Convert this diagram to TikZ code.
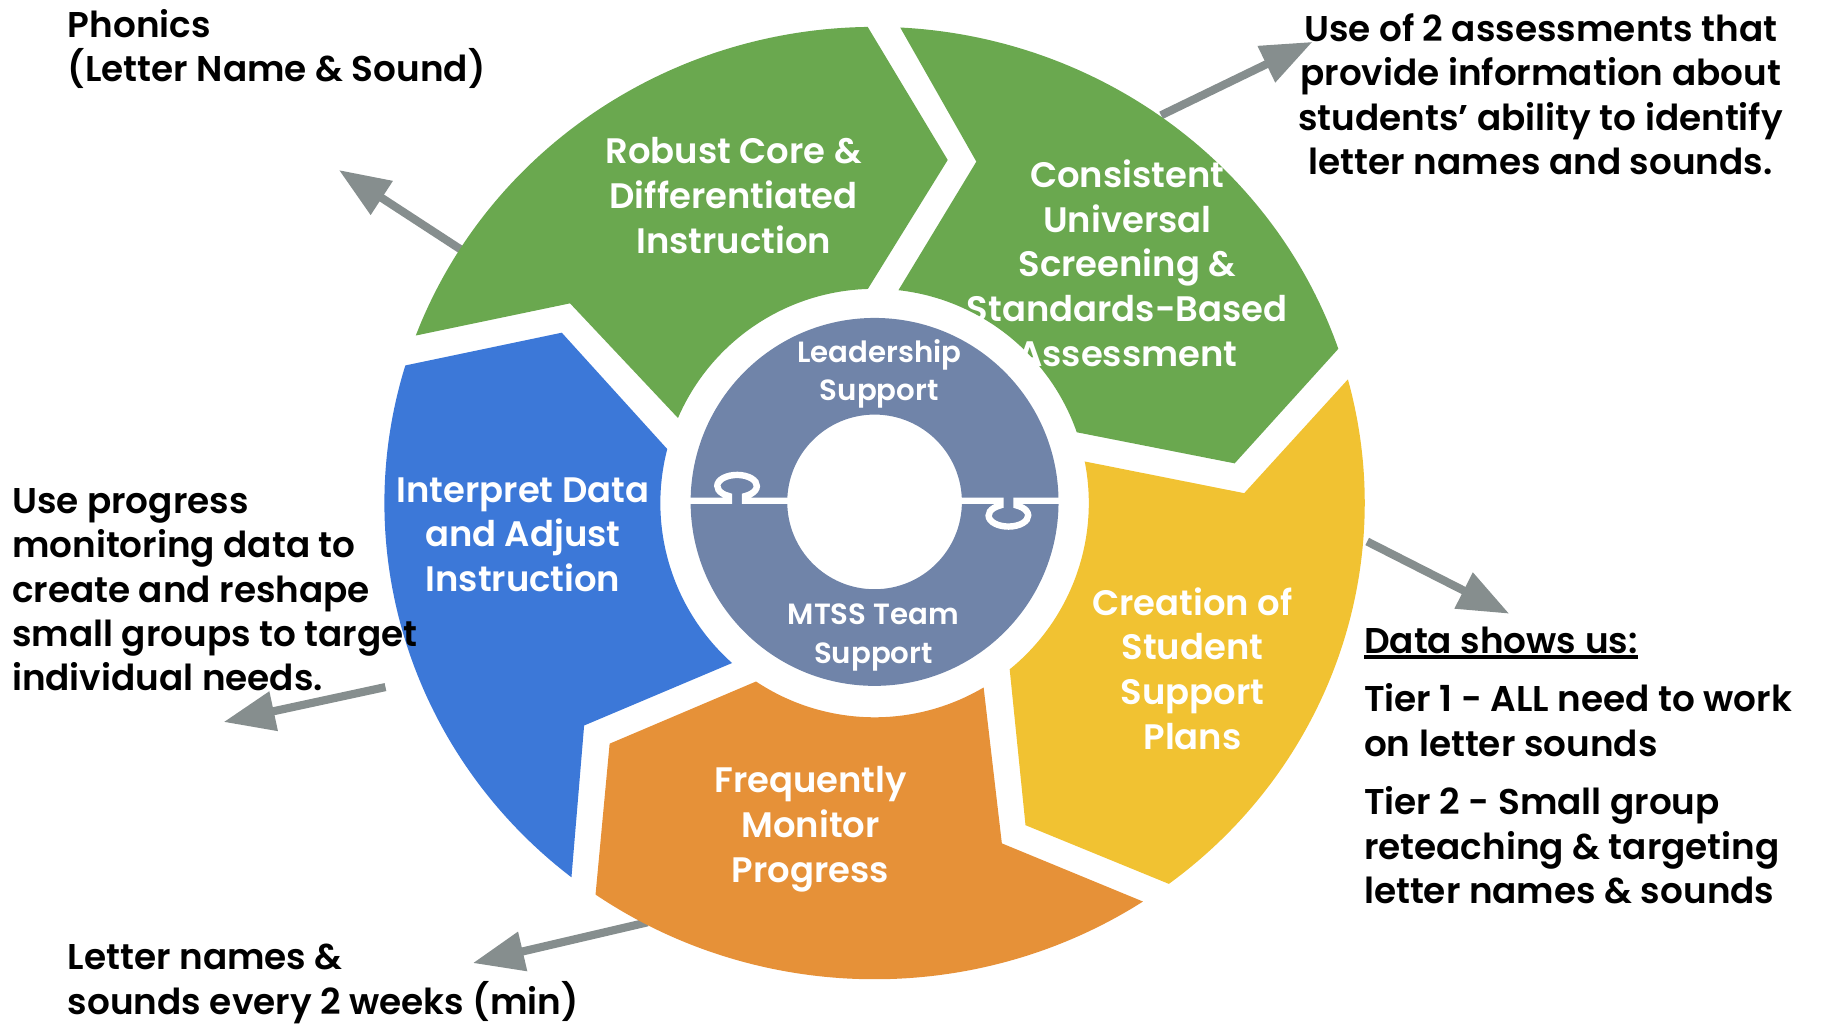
\documentclass[tikz,border=0pt]{standalone}
\usepackage{fontspec}
\setmainfont{Poppins SemiBold}
\usetikzlibrary{arrows.meta}
\newcommand\thickul[1]{\setbox0\hbox{#1}\rlap{\rule[-2.5pt]{\wd0}{1.6pt}}\box0}
\definecolor{coreGreen}{HTML}{6AA84F}
\definecolor{adjustBlue}{HTML}{3C78D8}
\definecolor{monitorOrange}{HTML}{E69138}
\definecolor{plansYellow}{HTML}{F1C232}
\definecolor{hubSlate}{HTML}{7084A9}
\definecolor{arrowGray}{HTML}{868E8E}

\begin{document}
\begin{tikzpicture}[x=0.02cm, y=0.02cm,
                seg/.style={white, align=center, font=\fontsize{17.3}{21.8}\selectfont},
                hub/.style={white, align=center, font=\fontsize{14.3}{18.8}\selectfont},
                note/.style={black, align=left, inner sep=0pt, font=\fontsize{17.5}{21.7}\selectfont},
                pointer/.style={draw=arrowGray, line width=0.14cm,
                  -{Triangle[length=0.88cm, width=0.66cm]}}
                ]
                \useasboundingbox (0,0) rectangle (1568,882);
                \def\rx{8.42cm}\def\ry{8.18cm}\def\ri{3.68cm}
                \coordinate (C) at (751,450);
                \coordinate (H) at (751,451);
                \foreach \n/\tx/\ty/\hx/\hy in {phonics/403/663/291/736, screen/997/783/1127/846,
                  data/1174/417/1296/355, group/331/292/192/262, weeks/556/90/406/55}{
                  \coordinate (\n-tail) at (\tx,\ty);
                  \coordinate (\n-tip) at (\hx,\hy);
                  \draw[pointer] (\n-tail) -- (\n-tip);
                }
                \fill[coreGreen] ([shift={(C)}]159.4:8.42cm and 8.18cm)
                  arc[start angle=159.4, end angle=90.8, x radius=\rx, y radius=\ry]
                  -- (813.8,744.6) -- ([shift={(C)}]91.8:\ri)
                  arc[start angle=91.8, end angle=156.6, radius=\ri] -- (489.5,621.5) -- cycle;
                \fill[coreGreen] ([shift={(C)}]87:8.42cm and 8.18cm)
                  arc[start angle=87, end angle=18.9, x radius=\rx, y radius=\ry]
                  -- (1060.2,484.1) -- ([shift={(C)}]19.3:\ri)
                  arc[start angle=19.3, end angle=83.6, radius=\ri] -- (838.4,743.2) -- cycle;
                \fill[plansYellow] ([shift={(C)}]15.06:8.42cm and 8.18cm)
                  arc[start angle=15.06, end angle=-53.1, x radius=\rx, y radius=\ry]
                  -- (880.6,173.4) -- ([shift={(C)}]-50.9:\ri)
                  arc[start angle=-50.9, end angle=11.2, radius=\ri] -- (1068.4,458.5) -- cycle;
                \fill[monitorOrange] ([shift={(C)}]-56.8:8.42cm and 8.18cm)
                  arc[start angle=-56.8, end angle=-124.7, x radius=\rx, y radius=\ry]
                  -- (523.5,243.4) -- ([shift={(C)}]-123.6:\ri)
                  arc[start angle=-123.6, end angle=-59.4, radius=\ri] -- (860.3,157.8) -- cycle;
                \fill[adjustBlue] ([shift={(C)}]231.8:8.42cm and 8.18cm)
                  arc[start angle=231.8, end angle=163.2, x radius=\rx, y radius=\ry]
                  -- (482.4,596.3) -- ([shift={(C)}]165.4:\ri)
                  arc[start angle=165.4, end angle=228.3, radius=\ri] -- (501.6,259) -- cycle;
                \fill[hubSlate, even odd rule] (H) circle[radius=3.16cm] (H) circle[radius=1.5cm];
                \draw[white, line width=0.11cm] (586,452) -- (626,452) -- ++(0,4)
                  arc[start angle=246, end angle=-66, x radius=0.34cm, y radius=0.19cm]
                  -- ++(0,-4) -- (680,452);
                \draw[white, line width=0.11cm] (822,452) -- (859,452) -- ++(0,-4)
                  arc[start angle=114, end angle=426, x radius=0.34cm, y radius=0.19cm]
                  -- ++(0,4) -- (916,452);
                \node[seg] (core) at (630,714) {Robust Core \&\\Differentiated\\Instruction};
                \node[seg] (screening) at (968,656) {Consistent\\Universal\\Screening \&\\Standards-Based\\Assessment};
                \node[seg] (adjust) at (449,423) {Interpret Data\\and Adjust\\Instruction};
                \node[seg] (plans) at (1024,308) {Creation of\\Student\\Support\\Plans};
                \node[seg] (monitor) at (696,170) {Frequently\\Monitor\\Progress};
                \node[hub] (lead) at (755,561) {Leadership\\Support};
                \node[hub] (team) at (750,334.5) {MTSS Team\\Support};
                \node[note, anchor=west] (phonicsNote) at (58,840) {Phonics\\(Letter Name \& Sound)};
                \node[note, align=center] (screenNote) at (1323,801)
                  {Use of 2 assessments that\\provide information about\\students’ ability to identify\\letter names and sounds.};
                \node[note, anchor=west] (groupNote) at (10,375.5)
                  {Use progress\\monitoring data to\\create and reshape\\small groups to target\\individual needs.};
                \node[note, anchor=west] (weeksNote) at (58,37) {Letter names \&\\sounds every 2 weeks (min)};
                \node[note, anchor=west] (dataNote) at (1171,330) {\thickul{Data shows us:}};
                \node[note, anchor=west] (tierOne) at (1171,263.5) {Tier 1 - ALL need to work\\on letter sounds};
                \node[note, anchor=west] (tierTwo) at (1171,156) {Tier 2 - Small group\\reteaching \& targeting\\letter names \& sounds};
              \end{tikzpicture}
\end{document}
